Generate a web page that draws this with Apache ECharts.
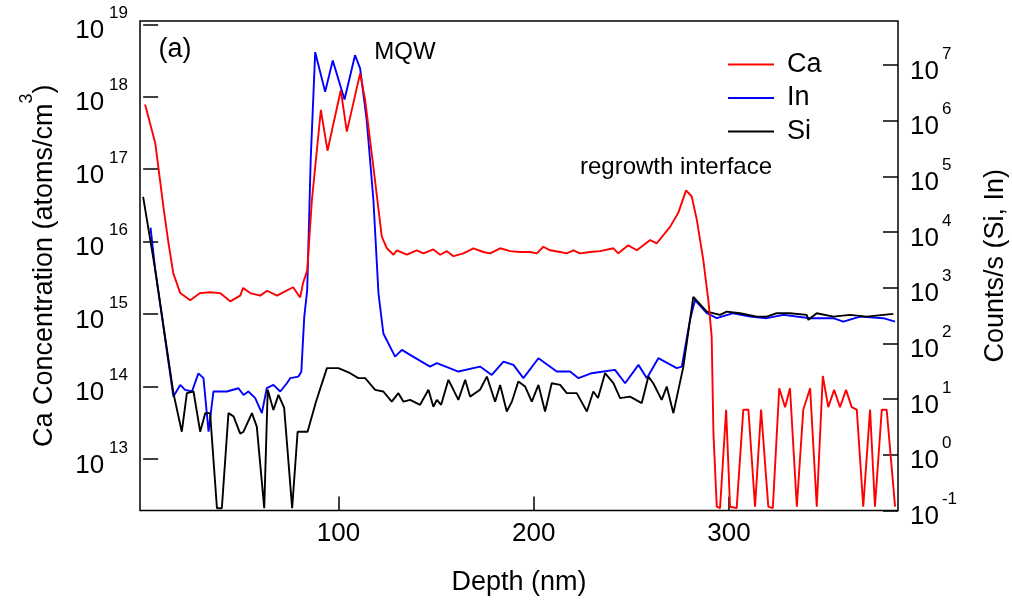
<!DOCTYPE html>
<html>
<head>
<meta charset="utf-8">
<script src="https://cdn.jsdelivr.net/npm/echarts@6/dist/echarts.min.js"></script>
<style>html,body{margin:0;padding:0;background:#fff;}#chart{width:1012px;height:601px;}</style>
</head>
<body>
<div id="chart"></div>
<script>
// ---- data ----
const caDepth = [1.0, 6.2, 10.4, 13.0, 15.4, 19.0, 24.1, 29.2, 34.3, 39.4, 44.6, 49.7, 51.2, 54.8, 59.9, 63.5, 68.6, 71.7, 76.8, 80.4, 81.9, 84.0, 86.4, 91.0, 94.4, 101.2, 104.3, 111.1, 113.7, 117.9, 122.2, 124.8, 128.2, 129.9, 135.0, 140.1, 143.5, 148.6, 152.1, 155.5, 158.9, 164.0, 169.1, 174.2, 177.7, 182.8, 187.9, 193.0, 198.1, 201.6, 204.9, 208.4, 213.5, 216.9, 220.3, 223.7, 228.8, 234.0, 240.8, 243.3, 248.4, 252.8, 259.6, 263.0, 269.8, 274.0, 278.0, 280.9, 283.5, 286.8, 289.4, 291.1, 292.0, 293.7, 295.4, 298.5, 300.5, 303.9, 307.3, 309.9, 313.3, 316.4, 320.1, 322.4, 325.7, 328.7, 331.2, 334.7, 338.0, 341.5, 344.9, 348.0, 350.8, 353.8, 356.8, 359.9, 362.8, 365.4, 368.7, 372.2, 374.7, 378.2, 380.7, 385.0];
const caConc = [7.8e17, 2.3e17, 3.0e16, 9.5e15, 3.7e15, 1.95e15, 1.55e15, 1.95e15, 2.0e15, 1.95e15, 1.5e15, 1.8e15, 2.3e15, 1.95e15, 1.8e15, 2.1e15, 1.8e15, 2.0e15, 2.35e15, 1.7e15, 2.7e15, 4.0e15, 3.7e16, 6.6e17, 1.8e17, 1.23e18, 3.3e17, 2.1e18, 8.9e17, 1.07e17, 1.17e16, 8.1e15, 6.6e15, 7.6e15, 6.6e15, 7.6e15, 6.9e15, 7.8e15, 6.6e15, 7.4e15, 6.3e15, 6.9e15, 8.1e15, 7.2e15, 6.9e15, 8.1e15, 7.4e15, 7.2e15, 7.2e15, 6.9e15, 8.5e15, 7.6e15, 7.2e15, 6.9e15, 7.6e15, 6.9e15, 7.2e15, 7.4e15, 8.1e15, 6.9e15, 8.9e15, 7.6e15, 1.05e16, 9.5e15, 1.6e16, 2.5e16, 5.1e16, 4.2e16, 2.0e16, 5.6e15, 1.55e15, 4.9e14, 2.3e13, 2.2e12, 2.1e12, 4.8e13, 2.2e12, 2.1e12, 4.8e13, 4.8e13, 2.2e12, 4.8e13, 2.2e12, 2.1e12, 9.5e13, 5.2e13, 9.5e13, 2.2e12, 4.8e13, 9.5e13, 2.2e12, 1.4e14, 5.2e13, 9.0e13, 5.2e13, 9.0e13, 5.2e13, 4.8e13, 2.2e12, 4.8e13, 2.2e12, 4.8e13, 4.8e13, 2.2e12];

const inDepth = [3.8, 6.2, 15.5, 19.0, 21.5, 25.0, 28.3, 30.9, 32.6, 33.5, 36.0, 42.9, 48.8, 51.4, 53.9, 57.4, 60.8, 63.3, 66.7, 70.2, 73.6, 75.3, 79.5, 81.0, 82.5, 84.0, 85.8, 88.1, 93.2, 97.1, 103.1, 108.5, 111.1, 114.5, 117.9, 120.5, 123.0, 129.0, 132.5, 136.7, 146.9, 150.4, 161.4, 172.5, 178.5, 184.5, 189.6, 194.7, 202.4, 211.8, 218.6, 222.9, 229.7, 235.7, 241.6, 246.8, 253.6, 257.9, 263.8, 273.2, 275.8, 280.0, 282.6, 288.6, 293.7, 302.2, 310.8, 319.3, 327.8, 341.5, 353.4, 358.5, 367.1, 379.0, 385.0];
const inCounts = [1.2e4, 2.1e3, 11.1, 18, 14.7, 13.7, 29, 23.8, 5.6, 2.6, 13.7, 13.7, 15.7, 11.9, 13.7, 10.4, 5.6, 15.7, 18, 13.7, 19.3, 23.8, 25.4, 31, 300, 900, 2e5, 1.7e7, 3.3e6, 1.2e7, 2.4e6, 1.5e7, 8.7e6, 1.0e6, 3.8e4, 794, 151, 58, 76.6, 62.4, 38.4, 44.2, 31.3, 38.4, 27.2, 47.2, 41.2, 23.8, 54.3, 31.3, 31.3, 23.8, 29.2, 31.3, 33.5, 19.3, 41.2, 23.8, 54.3, 36, 38.4, 265, 600, 349, 284, 349, 303, 284, 325, 284, 284, 247, 303, 284, 247];

const siDepth = [0.0, 6.2, 15.5, 19.8, 22.4, 25.8, 29.2, 31.8, 34.3, 37.8, 40.3, 43.7, 46.3, 49.7, 51.4, 55.7, 58.2, 62.0, 63.8, 66.7, 69.3, 72.2, 76.3, 79.1, 84.2, 88.5, 94.1, 100.0, 106.0, 110.2, 113.7, 118.8, 123.0, 127.3, 130.7, 133.3, 136.7, 141.8, 146.1, 148.6, 150.4, 152.6, 156.3, 158.9, 161.4, 164.9, 167.4, 172.5, 176.0, 180.2, 182.8, 186.2, 188.8, 192.1, 195.6, 199.0, 202.4, 205.8, 209.2, 213.5, 216.9, 222.0, 227.2, 230.5, 232.9, 236.5, 240.8, 244.2, 249.3, 255.3, 258.7, 261.2, 265.5, 268.1, 271.5, 276.6, 281.7, 288.6, 295.4, 298.8, 305.6, 314.2, 319.3, 324.4, 331.2, 339.8, 340.6, 344.9, 353.4, 361.9, 370.5, 379.0, 384.1];
const siCounts = [4.3e4, 2.1e3, 12.8, 2.6, 12.8, 13.7, 2.6, 5.6, 5.6, 0.11, 0.11, 5.6, 4.9, 2.4, 2.6, 5.6, 3.2, 0.11, 14.7, 6.4, 11.9, 7.0, 0.11, 2.6, 2.6, 9, 36, 36, 29.2, 23.8, 23.8, 14.7, 13.7, 9.0, 12.8, 9.0, 9.7, 7.9, 14.7, 7.3, 9.7, 7.9, 22.2, 14.7, 9.7, 22.2, 11.1, 14.7, 25.4, 9.0, 18, 6.0, 9.0, 20.7, 16.8, 9.0, 18, 6.0, 19.3, 18, 12.8, 12.8, 6.0, 13.7, 10.5, 29.2, 19.3, 10.4, 11.1, 8.5, 25.4, 19.3, 9.7, 16.8, 5.6, 38.4, 684, 373, 325, 373, 349, 303, 303, 349, 349, 325, 265, 349, 303, 325, 303, 325, 339];

const xTicks = [100, 200, 300];
const leftTicks = [1e13, 1e14, 1e15, 1e16, 1e17, 1e18, 1e19];
const rightTicks = [1e-1, 1e0, 1e1, 1e2, 1e3, 1e4, 1e5, 1e6, 1e7];
const seriesNames = ['Ca', 'In', 'Si'];

// ---- chart ----
const FONT = '"Liberation Sans", Arial, sans-serif';
const zip = (a, b) => a.map((v, i) => [v, b[i]]);
const powLabel = v => '{b|10}{s|' + Math.round(Math.log10(v)) + '}';
const makeRich = gap => ({
  b: { fontSize: 26, lineHeight: 39, verticalAlign: 'bottom', fontFamily: FONT, color: '#000' },
  s: { fontSize: 17, verticalAlign: 'top', fontFamily: FONT, color: '#000', padding: [0, 0, 0, gap] }
});

const chart = echarts.init(document.getElementById('chart'), null, { renderer: 'canvas' });
chart.setOption({
  animation: false,
  backgroundColor: '#fff',
  textStyle: { fontFamily: FONT, color: '#000' },
  grid: { left: 140, right: 114, top: 21, bottom: 90.5, show: true, borderColor: '#000', borderWidth: 1.5, containLabel: false, outerBoundsMode: 'none' },
  legend: {
    data: seriesNames, orient: 'vertical', left: 728, top: 51, padding: 0, icon: 'rect',
    itemWidth: 46, itemHeight: 2, itemGap: 6.5,
    textStyle: { fontSize: 27, color: '#000', fontFamily: FONT, padding: [0, 0, 0, 8] }
  },
  xAxis: {
    type: 'value', min: -1.6, max: 386.5,
    name: 'Depth (nm)', nameLocation: 'middle', nameGap: 59,
    nameTextStyle: { fontSize: 27, color: '#000', fontFamily: FONT },
    axisLine: { show: false },
    axisTick: { show: true, inside: true, length: 14, customValues: xTicks, lineStyle: { color: '#000', width: 1.5 } },
    axisLabel: { customValues: xTicks, fontSize: 26, color: '#000', margin: 10, fontFamily: FONT },
    splitLine: { show: false }
  },
  yAxis: [
    {
      type: 'log', logBase: 10, min: Math.pow(10, 12.29), max: Math.pow(10, 19.045), position: 'left',
      name: '{t|Ca Concentration (atoms/cm}{s|3}{t|)}', nameLocation: 'middle', nameGap: 82,
      nameTextStyle: {
        fontSize: 27, color: '#000', fontFamily: FONT,
        rich: {
          t: { fontSize: 27, lineHeight: 40, verticalAlign: 'bottom', fontFamily: FONT, color: '#000' },
          s: { fontSize: 18, verticalAlign: 'top', fontFamily: FONT, color: '#000' }
        }
      },
      axisLine: { show: false },
      axisTick: { show: true, inside: true, length: 15, customValues: leftTicks, lineStyle: { color: '#000', width: 1.5 } },
      axisLabel: { customValues: leftTicks, formatter: powLabel, rich: makeRich(5), margin: 12 },
      splitLine: { show: false }
    },
    {
      type: 'log', logBase: 10, min: 0.1, max: Math.pow(10, 7.79), position: 'right',
      name: 'Counts/s (Si, In)', nameLocation: 'middle', nameGap: 84, nameRotate: 90,
      nameTextStyle: { fontSize: 27, color: '#000', fontFamily: FONT },
      axisLine: { show: false },
      axisTick: { show: true, inside: true, length: 15, customValues: rightTicks, lineStyle: { color: '#000', width: 1.5 } },
      axisLabel: { customValues: rightTicks, formatter: powLabel, rich: makeRich(3), margin: 12 },
      splitLine: { show: false }
    }
  ],
  graphic: [
    { type: 'text', x: 175, y: 50, style: { text: '(a)', fontSize: 27, fontFamily: FONT, fill: '#000', textAlign: 'center', textVerticalAlign: 'middle', verticalAlign: 'middle' } },
    { type: 'text', x: 405, y: 52, style: { text: 'MQW', fontSize: 24, fontFamily: FONT, fill: '#000', textAlign: 'center', textVerticalAlign: 'middle', verticalAlign: 'middle' } },
    { type: 'text', x: 676, y: 167, style: { text: 'regrowth interface', fontSize: 24, fontFamily: FONT, fill: '#000', textAlign: 'center', textVerticalAlign: 'middle', verticalAlign: 'middle' } }
  ],
  series: [
    { name: 'In', type: 'line', yAxisIndex: 1, data: zip(inDepth, inCounts), showSymbol: false, symbol: 'none', lineStyle: { color: '#0000ff', width: 1.9 }, itemStyle: { color: '#0000ff' }, z: 2 },
    { name: 'Si', type: 'line', yAxisIndex: 1, data: zip(siDepth, siCounts), showSymbol: false, symbol: 'none', lineStyle: { color: '#000000', width: 1.9 }, itemStyle: { color: '#000000' }, z: 3 },
    { name: 'Ca', type: 'line', yAxisIndex: 0, data: zip(caDepth, caConc), showSymbol: false, symbol: 'none', lineStyle: { color: '#ff0000', width: 1.9 }, itemStyle: { color: '#ff0000' }, z: 4 }
  ]
});
</script>
</body>
</html>
